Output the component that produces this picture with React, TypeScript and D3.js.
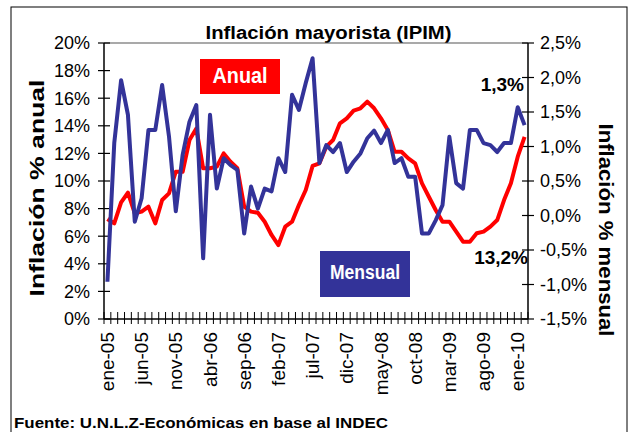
import React from "react";
import * as d3 from "d3";

const months = [
  "ene-05","feb-05","mar-05","abr-05","may-05","jun-05","jul-05","ago-05","sep-05","oct-05","nov-05","dic-05",
  "ene-06","feb-06","mar-06","abr-06","may-06","jun-06","jul-06","ago-06","sep-06","oct-06","nov-06","dic-06",
  "ene-07","feb-07","mar-07","abr-07","may-07","jun-07","jul-07","ago-07","sep-07","oct-07","nov-07","dic-07",
  "ene-08","feb-08","mar-08","abr-08","may-08","jun-08","jul-08","ago-08","sep-08","oct-08","nov-08","dic-08",
  "ene-09","feb-09","mar-09","abr-09","may-09","jun-09","jul-09","ago-09","sep-09","oct-09","nov-09","dic-09",
  "ene-10","feb-10",
];

const tickLabels = [
  "ene-05","jun-05","nov-05","abr-06","sep-06","feb-07","jul-07","dic-07","may-08","oct-08","mar-09","ago-09","ene-10",
];

// Inflación % anual (eje izquierdo)
const anual = [
  7.25,6.93,8.45,9.15,7.66,7.78,8.14,6.93,8.62,9.1,10.67,10.67,
  12.97,13.8,10.92,10.92,11.04,12.0,11.4,10.92,8.14,7.78,7.7,7.05,
  6.09,5.36,6.69,7.05,8.26,9.35,11.09,11.28,12.49,12.97,14.18,14.54,
  15.1,15.27,15.75,15.27,14.54,13.7,12.12,12.12,11.64,11.28,9.83,8.86,
  7.9,7.05,7.05,6.33,5.6,5.6,6.21,6.33,6.69,7.17,8.62,9.83,
  11.76,13.2,
];

// Inflación % mensual (eje derecho)
const mensual = [
  -0.96,1.05,1.96,1.46,-0.09,0.25,1.24,1.24,1.89,1.15,0.06,0.88,
  1.36,1.6,-0.62,1.46,0.39,0.83,0.73,0.66,-0.26,0.42,0.1,0.39,
  0.35,0.83,0.63,1.75,1.53,1.92,2.28,0.76,1.02,0.92,1.05,0.63,
  0.78,0.9,1.12,1.23,1.05,1.24,0.76,0.83,0.56,0.56,-0.26,-0.26,
  -0.07,0.15,1.14,0.47,0.39,1.24,1.24,1.05,1.02,0.92,1.05,1.05,
  1.57,1.31,
];

const leftTicks = [0, 2, 4, 6, 8, 10, 12, 14, 16, 18, 20];
const rightTicks = [-1.5, -1.0, -0.5, 0.0, 0.5, 1.0, 1.5, 2.0, 2.5];

const RED = "#FF0000";
const BLUE = "#333399";
const FONT = "'Liberation Sans', Arial, sans-serif";

export default function App() {
  const W = 635, H = 432;
  const x0 = 104, x1 = 528, yTop = 43, yBot = 319;

  const x = d3.scaleBand<string>().domain(months).range([x0, x1]).paddingInner(0).paddingOuter(0);
  const bw = x.bandwidth();
  const cx = (m: string) => (x(m) as number) + bw / 2;
  const yL = d3.scaleLinear().domain([0, 20]).range([yBot, yTop]);
  const yR = d3.scaleLinear().domain([-1.5, 2.5]).range([yBot, yTop]);

  const lineA = d3.line<number>().x((_, i) => cx(months[i])).y((d) => yL(d));
  const lineM = d3.line<number>().x((_, i) => cx(months[i])).y((d) => yR(d));

  const fmtR = (v: number) => v.toFixed(1).replace(".", ",") + "%";

  return (
    <svg width={W} height={H} style={{ position: "absolute", left: 0, top: 0, display: "block", background: "#fff" }} fontFamily={FONT}>
      <rect x={0} y={0} width={W} height={H} fill="#fff" />
      <rect x={11} y={7} width={616} height={440} fill="none" stroke="#000" strokeWidth={1} />

      {/* title */}
      <text x={328.5} y={39} textAnchor="middle" fontSize={18} fontWeight="bold" textLength={246} lengthAdjust="spacingAndGlyphs">
        Inflación mayorista (IPIM)
      </text>

      {/* plot frame */}
      <line x1={x0} x2={x1} y1={yTop} y2={yTop} stroke="#555" strokeWidth={1.2} />
      <line x1={x0} x2={x0} y1={yTop} y2={yBot} stroke="#000" strokeWidth={1.5} />
      <line x1={x1} x2={x1} y1={yTop} y2={yBot} stroke="#000" strokeWidth={1.5} />
      <line x1={x0} x2={x1} y1={yBot} y2={yBot} stroke="#000" strokeWidth={1.5} />

      {/* left ticks */}
      {leftTicks.map((v) => (
        <g key={"l" + v}>
          <line x1={x0 - 6} x2={x0 + 6} y1={yL(v)} y2={yL(v)} stroke="#000" strokeWidth={1.2} />
          <text x={90} y={yL(v)} dy="0.35em" textAnchor="end" fontSize={18}>{v + "%"}</text>
        </g>
      ))}

      {/* right ticks */}
      {rightTicks.map((v) => (
        <g key={"r" + v}>
          <line x1={x1 - 6} x2={x1 + 6} y1={yR(v)} y2={yR(v)} stroke="#000" strokeWidth={1.2} />
          <text x={540} y={yR(v)} dy="0.35em" textAnchor="start" fontSize={18}>{fmtR(v)}</text>
        </g>
      ))}

      {/* bottom ticks at category boundaries */}
      {months.map((m) => (
        <line key={"b" + m} x1={(x(m) as number) + bw} x2={(x(m) as number) + bw} y1={312} y2={324} stroke="#000" strokeWidth={1} />
      ))}
      <line x1={x0} x2={x0} y1={312} y2={324} stroke="#000" strokeWidth={1} />

      {/* x labels */}
      {tickLabels.map((m) => (
        <text key={"t" + m} transform={`translate(${cx(m)},332) rotate(-90)`} dy="0.35em" textAnchor="end" fontSize={19}>
          {m}
        </text>
      ))}

      {/* axis titles */}
      <text transform="translate(44,188) rotate(-90)" textAnchor="middle" fontSize={20} fontWeight="bold" textLength={217} lengthAdjust="spacingAndGlyphs">
        Inflación % anual
      </text>
      <text transform="translate(599,230) rotate(90)" textAnchor="middle" fontSize={20} fontWeight="bold" textLength={213} lengthAdjust="spacingAndGlyphs">
        Inflación % mensual
      </text>

      {/* series */}
      <path d={lineA(anual) || ""} fill="none" stroke={RED} strokeWidth={4} strokeLinejoin="round" />
      <path d={lineM(mensual) || ""} fill="none" stroke={BLUE} strokeWidth={4} strokeLinejoin="round" />

      {/* labels */}
      <rect x={200} y={59} width={80} height={35} fill={RED} />
      <text x={240} y={83} textAnchor="middle" fontSize={22} fontWeight="bold" fill="#fff" textLength={55} lengthAdjust="spacingAndGlyphs">Anual</text>
      <rect x={320} y={251} width={90} height={46} fill={BLUE} />
      <text x={365} y={279} textAnchor="middle" fontSize={20} fontWeight="bold" fill="#fff" textLength={70} lengthAdjust="spacingAndGlyphs">Mensual</text>

      <text x={524} y={91} textAnchor="end" fontSize={19} fontWeight="bold">1,3%</text>
      <text x={528} y={264} textAnchor="end" fontSize={19} fontWeight="bold">13,2%</text>

      <text x={14} y={428} fontSize={14} fontWeight="bold" textLength={374} lengthAdjust="spacingAndGlyphs">
        Fuente: U.N.L.Z-Económicas en base al INDEC
      </text>
    </svg>
  );
}
